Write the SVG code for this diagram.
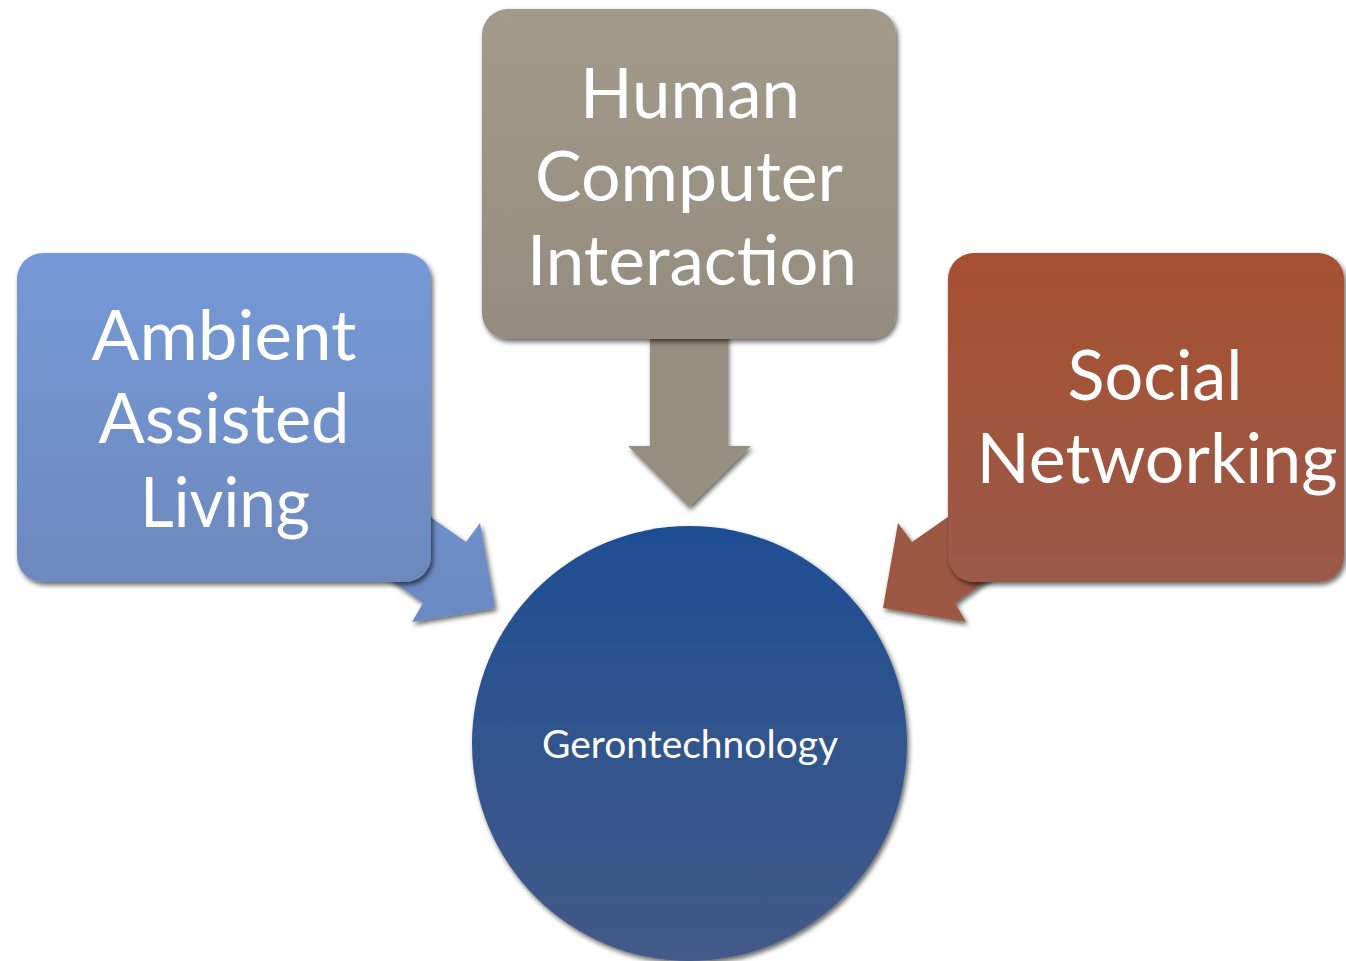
<svg xmlns="http://www.w3.org/2000/svg" width="1346" height="961" viewBox="0 0 1346 961">
  <defs>
    <filter id="sh" x="-10%" y="-10%" width="125%" height="125%">
      <feDropShadow dx="2" dy="3" stdDeviation="2.5" flood-color="#000" flood-opacity="0.6"/>
    </filter>
    <linearGradient id="gBlue" x1="0" y1="0" x2="0" y2="1">
      <stop offset="0" stop-color="#7599d7"/>
      <stop offset="1" stop-color="#6d89bd"/>
    </linearGradient>
    <linearGradient id="gGrey" x1="0" y1="0" x2="0" y2="1">
      <stop offset="0" stop-color="#a29b8b"/>
      <stop offset="1" stop-color="#948d7f"/>
    </linearGradient>
    <linearGradient id="gRed" x1="0" y1="0" x2="0" y2="1">
      <stop offset="0" stop-color="#a64f2f"/>
      <stop offset="1" stop-color="#9b5a49"/>
    </linearGradient>
    <linearGradient id="gNavy" x1="0" y1="0" x2="0" y2="1">
      <stop offset="0" stop-color="#1e4e93"/>
      <stop offset="1" stop-color="#445a88"/>
    </linearGradient>
    <linearGradient id="gArrowL" x1="0" y1="0" x2="0" y2="1">
      <stop offset="0" stop-color="#6f90cb"/>
      <stop offset="1" stop-color="#6a89c2"/>
    </linearGradient>
  </defs>
  <style>
    .lbl { font-family: Lato, "Liberation Sans", sans-serif; fill: #ffffff; text-anchor: middle; }
    .big { font-size: 70px; }
    .small { font-size: 39px; }
    .box { filter: url(#sh); }
  </style>
  <rect width="1346" height="961" fill="#ffffff"/>

  <g id="connectors">
    <polygon id="arrow-aal" class="box" fill="url(#gArrowL)" points="400,496 466,542 480,523 495,608 412,622 423,603 370,565"/>
    <polygon id="arrow-hci" class="box" fill="#968f80" points="650,330 727,330 727,446 751,446 689,507 628,446 650,446"/>
    <polygon id="arrow-sn" class="box" fill="#9c5842" points="978,496 912,542 898,523 883,608 966,622 955,603 1008,565"/>
  </g>

  <g id="node-aal">
    <rect class="box" x="17" y="253" width="414" height="329" rx="26" fill="url(#gBlue)"/>
    <text class="lbl big" x="224" y="360" textLength="265" lengthAdjust="spacingAndGlyphs">Ambient</text>
    <text class="lbl big" x="224" y="443" textLength="251" lengthAdjust="spacingAndGlyphs">Assisted</text>
    <text class="lbl big" x="225" y="527" textLength="170" lengthAdjust="spacingAndGlyphs">Living</text>
  </g>

  <g id="node-hci">
    <rect class="box" x="482" y="9" width="414" height="330" rx="26" fill="url(#gGrey)"/>
    <text class="lbl big" x="690" y="118" textLength="220" lengthAdjust="spacingAndGlyphs">Human</text>
    <text class="lbl big" x="689" y="201" textLength="308" lengthAdjust="spacingAndGlyphs">Computer</text>
    <text class="lbl big" x="692" y="285" textLength="330" lengthAdjust="spacingAndGlyphs">Interaction</text>
  </g>

  <g id="node-sn">
    <rect class="box" x="948" y="253" width="396" height="329" rx="26" fill="url(#gRed)"/>
    <text class="lbl big" x="1155" y="400" textLength="175" lengthAdjust="spacingAndGlyphs">Social</text>
    <text class="lbl big" x="1157" y="483" textLength="361" lengthAdjust="spacingAndGlyphs">Networking</text>
  </g>

  <g id="node-gero">
    <circle class="box" cx="689.5" cy="743.5" r="217.5" fill="url(#gNavy)"/>
    <text class="lbl small" x="690" y="758" textLength="296" lengthAdjust="spacingAndGlyphs">Gerontechnology</text>
  </g>
</svg>
